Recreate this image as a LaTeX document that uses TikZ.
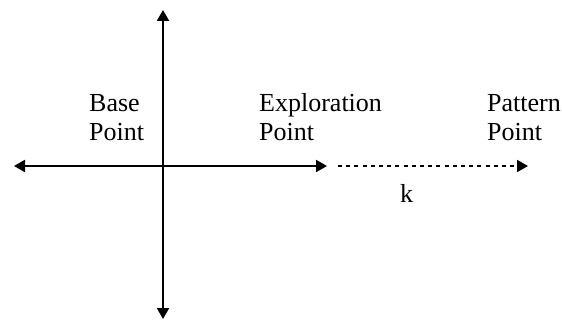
\documentclass[tikz,border=0pt]{standalone}
\usepackage{fontspec}
\setmainfont{Liberation Serif}
\usetikzlibrary{arrows.meta}
\begin{document}
\begin{tikzpicture}[x=1pt,y=1pt,
  axis/.style={line width=2pt,{Triangle[length=11pt,width=12pt]}-{Triangle[length=11pt,width=12pt]}},
  dashline/.style={line width=2pt,dash pattern=on 4pt off 4.2pt,-{Triangle[length=11pt,width=12pt]}},
  lbl/.style={inner sep=0pt,anchor=base west,align=left,font=\fontsize{26}{29}\selectfont}]
\useasboundingbox (0,0) rectangle (562,322);
\coordinate (L) at (14,156);
\coordinate (R) at (327,156);
\coordinate (T) at (163,312);
\coordinate (B) at (163,3);
\coordinate (DS) at (338,156);
\coordinate (DE) at (528,156);
\draw[axis] (L) -- (R);
\draw[axis] (B) -- (T);
\draw[dashline] (DS) -- (DE);
\node[lbl] (base) at (89,182) {Base\\Point};
\node[lbl] (expl) at (259,182) {Exploration\\Point};
\node[lbl] (patt) at (487,182) {Pattern\\Point};
\node[lbl] (k) at (400,120) {k};
\end{tikzpicture}
\end{document}
